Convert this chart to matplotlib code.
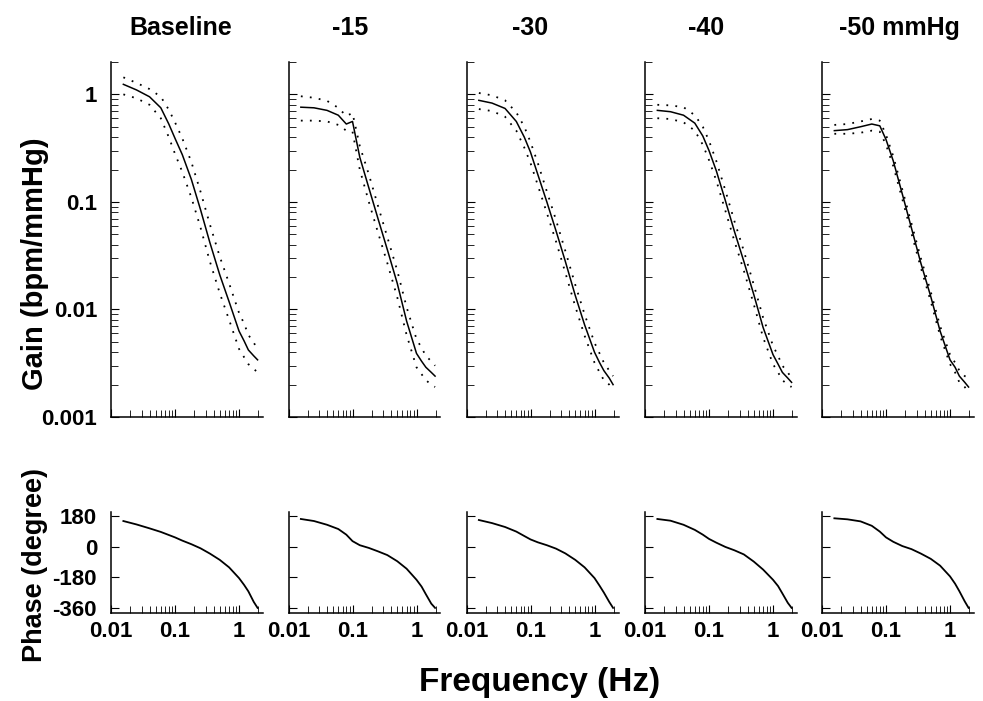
import matplotlib
matplotlib.use("Agg")
import matplotlib.pyplot as plt
from matplotlib.ticker import FixedLocator, NullFormatter, FixedFormatter

plt.rcParams["font.family"] = ["Liberation Sans", "DejaVu Sans"]
plt.rcParams["font.weight"] = "bold"
plt.rcParams["axes.unicode_minus"] = False

# frequency grid (Hz), shared by all panels
freq = [0.0156, 0.025, 0.04, 0.06, 0.08, 0.1, 0.13, 0.18, 0.25, 0.35, 0.5, 0.7, 1.0, 1.2, 1.4, 1.7, 1.95]

titles = ["Baseline", "-15", "-30", "-40", "-50 mmHg"]

# transfer gain (bpm/mmHg), mean and dotted bounds
gain_base = [1.24, 1.10, 0.95, 0.75, 0.53, 0.39, 0.275, 0.162, 0.085, 0.042, 0.021, 0.0118, 0.0063, 0.0051, 0.0042, 0.0037, 0.0034]
gain_base_hi = [1.44, 1.28, 1.12, 0.95, 0.72, 0.55, 0.39, 0.235, 0.125, 0.062, 0.031, 0.0175, 0.0093, 0.0074, 0.0058, 0.0049, 0.0043]
gain_base_lo = [1.0, 0.92, 0.80, 0.60, 0.40, 0.28, 0.19, 0.11, 0.058, 0.028, 0.0142, 0.0080, 0.0043, 0.0036, 0.0031, 0.0028, 0.0026]

gain_15 = [0.76, 0.75, 0.71, 0.64, 0.53, 0.56, 0.26, 0.135, 0.070, 0.036, 0.0175, 0.0078, 0.0039, 0.0033, 0.0029, 0.0026, 0.0024]
gain_15_hi = [0.96, 0.93, 0.87, 0.75, 0.63, 0.67, 0.33, 0.18, 0.092, 0.047, 0.023, 0.0105, 0.0053, 0.0044, 0.0037, 0.0033, 0.0030]
gain_15_lo = [0.57, 0.57, 0.56, 0.52, 0.46, 0.45, 0.20, 0.10, 0.052, 0.027, 0.013, 0.0058, 0.0029, 0.0025, 0.0022, 0.0020, 0.0019]

gain_30 = [0.88, 0.83, 0.74, 0.56, 0.40, 0.29, 0.18, 0.10, 0.054, 0.028, 0.0135, 0.0072, 0.0040, 0.0032, 0.0027, 0.0023, 0.0020]
gain_30_hi = [1.03, 0.98, 0.88, 0.68, 0.50, 0.36, 0.23, 0.125, 0.068, 0.035, 0.017, 0.0090, 0.0049, 0.0039, 0.0032, 0.0027, 0.0024]
gain_30_lo = [0.73, 0.70, 0.62, 0.46, 0.32, 0.23, 0.143, 0.079, 0.043, 0.022, 0.0107, 0.0057, 0.0032, 0.0026, 0.0022, 0.0020, 0.0018]

gain_40 = [0.71, 0.69, 0.64, 0.54, 0.41, 0.30, 0.195, 0.103, 0.053, 0.028, 0.0138, 0.0068, 0.0038, 0.0031, 0.0026, 0.0023, 0.0021]
gain_40_hi = [0.80, 0.79, 0.76, 0.64, 0.50, 0.37, 0.24, 0.128, 0.066, 0.035, 0.017, 0.0084, 0.0046, 0.0037, 0.0030, 0.0026, 0.0023]
gain_40_lo = [0.60, 0.59, 0.55, 0.46, 0.34, 0.245, 0.158, 0.083, 0.043, 0.023, 0.0112, 0.0055, 0.0031, 0.0026, 0.0022, 0.0020, 0.0019]

gain_50 = [0.46, 0.47, 0.50, 0.53, 0.51, 0.38, 0.24, 0.118, 0.057, 0.027, 0.0132, 0.0063, 0.0034, 0.0029, 0.0024, 0.0021, 0.0019]
gain_50_hi = [0.52, 0.53, 0.56, 0.59, 0.57, 0.42, 0.265, 0.13, 0.063, 0.030, 0.0146, 0.0070, 0.0038, 0.0032, 0.0027, 0.0024, 0.0023]
gain_50_lo = [0.43, 0.43, 0.44, 0.46, 0.45, 0.34, 0.215, 0.106, 0.051, 0.0245, 0.0119, 0.0057, 0.0031, 0.0026, 0.0021, 0.0019, 0.0017]

# phase (degree)
phase_base = [150, 130, 107, 86, 68, 54, 35, 14, -10, -41, -78, -122, -185, -225, -263, -325, -360]
phase_15 = [162, 150, 128, 103, 70, 32, 8, -8, -28, -50, -86, -130, -195, -235, -280, -335, -360]
phase_30 = [156, 138, 115, 88, 62, 42, 25, 8, -12, -40, -78, -122, -185, -230, -270, -325, -360]
phase_40 = [162, 152, 128, 98, 70, 45, 23, -2, -22, -46, -88, -135, -195, -232, -275, -330, -360]
phase_50 = [166, 160, 148, 122, 88, 54, 28, 3, -15, -41, -72, -112, -175, -218, -262, -322, -360]

gains = [gain_base, gain_15, gain_30, gain_40, gain_50]
gains_hi = [gain_base_hi, gain_15_hi, gain_30_hi, gain_40_hi, gain_50_hi]
gains_lo = [gain_base_lo, gain_15_lo, gain_30_lo, gain_40_lo, gain_50_lo]
phases = [phase_base, phase_15, phase_30, phase_40, phase_50]

W, H = 983, 701
lefts = [111, 288.5, 466.5, 645, 822]
title_x = [181, 350, 530, 706, 899]
panel_w = 152

x_major = [0.01, 0.1, 1]
x_minor = [m * 0.01 for m in range(2, 10)] + [m * 0.1 for m in range(2, 10)] + [2]
y_minor = [m * 10.0 ** e for e in (-3, -2, -1, 0) for m in range(2, 10) if m * 10.0 ** e <= 2]

dots = (0, (1, 4))

fig = plt.figure(figsize=(W / 100, H / 100), dpi=100)


def style_axes(ax):
    for side in ("top", "right"):
        ax.spines[side].set_visible(False)
    for side in ("left", "bottom"):
        ax.spines[side].set_linewidth(1.1)
    ax.set_xscale("log")
    ax.set_xlim(0.01, 2.37)
    ax.xaxis.set_major_locator(FixedLocator(x_major))
    ax.xaxis.set_minor_locator(FixedLocator(x_minor))
    ax.xaxis.set_minor_formatter(NullFormatter())
    ax.tick_params(which="major", direction="in", length=6, width=0.8, labelsize=16)
    ax.tick_params(which="minor", direction="in", length=5, width=0.6)
    ax.tick_params(axis="x", pad=6)
    ax.tick_params(axis="y", pad=10)


for i in range(5):
    # gain panel
    ax = fig.add_axes([lefts[i] / W, 1 - 417 / H, panel_w / W, 355 / H])
    style_axes(ax)
    ax.set_yscale("log")
    ax.plot(freq, gains[i], color="black", lw=1.1)
    ax.plot(freq, gains_hi[i], color="black", lw=1.3, ls=dots)
    ax.plot(freq, gains_lo[i], color="black", lw=1.3, ls=dots)
    ax.set_ylim(0.001, 2.0)
    ax.yaxis.set_major_locator(FixedLocator([0.001, 0.01, 0.1, 1]))
    ax.yaxis.set_major_formatter(FixedFormatter(["0.001", "0.01", "0.1", "1"]))
    ax.yaxis.set_minor_locator(FixedLocator(y_minor))
    ax.yaxis.set_minor_formatter(NullFormatter())
    ax.tick_params(axis="x", labelbottom=False)
    if i > 0:
        ax.tick_params(axis="y", labelleft=False)
    fig.text(title_x[i] / W, 1 - 28 / H, titles[i], ha="center", va="center",
             fontsize=18, fontweight="bold")

    # phase panel
    axp = fig.add_axes([lefts[i] / W, 1 - 613 / H, panel_w / W, 101 / H])
    style_axes(axp)
    axp.plot(freq, phases[i], color="black", lw=1.3)
    axp.set_ylim(-390, 203)
    axp.yaxis.set_major_locator(FixedLocator([180, 0, -180, -360]))
    axp.yaxis.set_major_formatter(FixedFormatter(["180", "0", "-180", "-360"]))
    axp.xaxis.set_major_formatter(FixedFormatter(["0.01", "0.1", "1"]))
    if i > 0:
        axp.tick_params(axis="y", labelleft=False)

fig.text(35 / W, 1 - 264 / H, "Gain (bpm/mmHg)", rotation=90, ha="center", va="center",
         fontsize=21, fontweight="bold")
fig.text(35 / W, 1 - 565 / H, "Phase (degree)", rotation=90, ha="center", va="center",
         fontsize=19.5, fontweight="bold")
fig.text(540 / W, 1 - 683 / H, "Frequency (Hz)", ha="center", va="center",
         fontsize=24, fontweight="bold")

fig.savefig("out.png", dpi=100)
